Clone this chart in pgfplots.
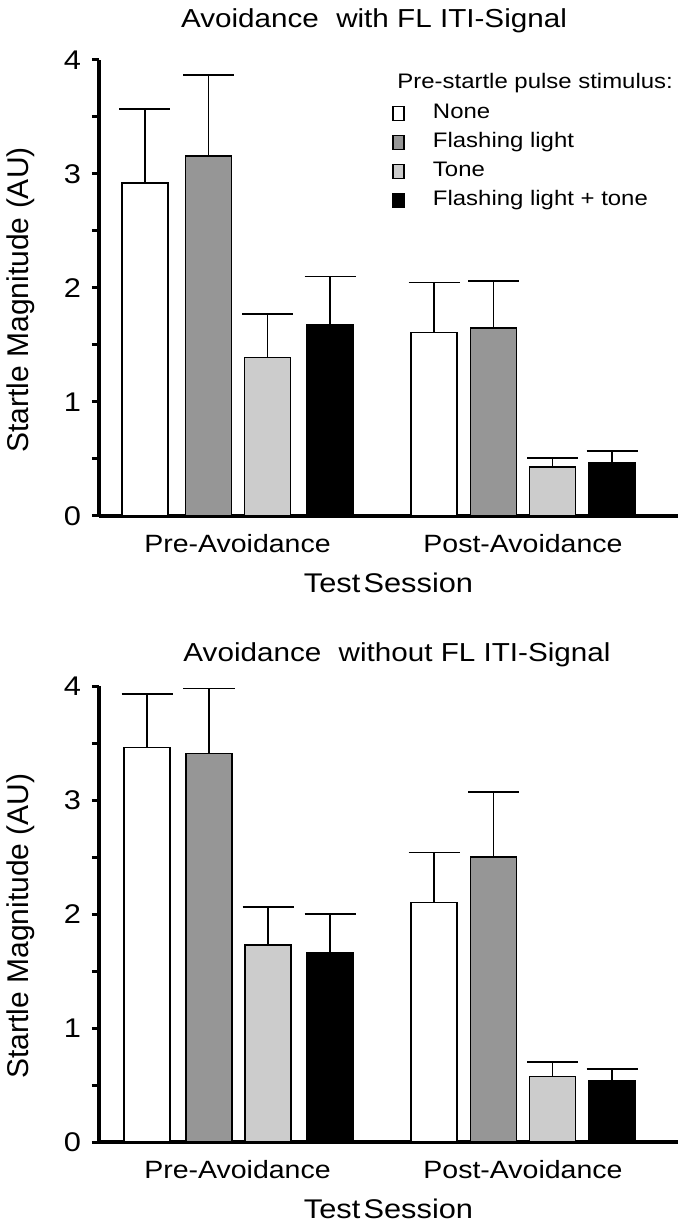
\documentclass[border=0pt]{standalone}
\usepackage{fontspec}
\setmainfont{Liberation Sans}[FakeStretch=1.14]
\newfontfamily\ylabfont{Liberation Sans}
\usepackage{pgfplots}
\pgfplotsset{compat=1.18}
\definecolor{flgray}{RGB}{150,150,150}
\definecolor{tonegray}{RGB}{204,204,204}
\pgfplotsset{
  mybar/.style={ybar, bar width=23pt, bar shift=0pt, draw=black, line width=0.75pt,
    /pgfplots/error bars/y dir=plus, /pgfplots/error bars/y explicit,
    /pgfplots/error bars/error bar style={line width=0.75pt, black},
    /pgfplots/error bars/error mark options={rotate=90, line width=0.75pt, mark size=12.75pt, black}},
  panel/.style={
    scale only axis, width=289.5pt, height=228pt,
    xmin=99, xmax=678, ymin=0, ymax=4,
    axis x line*=bottom, axis y line*=left,
    axis line style={line width=2pt, -},
    ytick={0,1,2,3,4}, minor ytick={0.5,1.5,2.5,3.5},
    tick align=outside, major tick length=3.5pt, minor tick length=3.5pt,
    tick style={line width=1.5pt, black},
    xtick={237.5,523}, xticklabels={Pre-Avoidance,Post-Avoidance},
    xtick style={draw=none},
    /pgf/number format/assume math mode=true,
    font=\fontsize{12.5}{15}\selectfont,
    yticklabel style={xshift=-2pt, font=\fontsize{13.5}{16}\selectfont},
    xticklabel style={yshift=-2pt},
    xlabel={Test\kern0.12em Session},
    xlabel style={at={(axis description cs:0.5,0)}, anchor=center, yshift=-33.5pt, font=\fontsize{13.5}{16}\selectfont},
    ylabel={Startle Magnitude (AU)},
    ylabel style={at={(axis description cs:-0.1347,0.474)}, anchor=center, font=\ylabfont\fontsize{15}{18}\selectfont},
    clip=false,
  }
}
\begin{document}
\begin{tikzpicture}
\path[use as bounding box] (0,0) rectangle (343pt,613.5pt);
% ---------- top panel ----------
\begin{axis}[panel, at={(49.5pt,355.5pt)}, anchor=south west,
  legend style={at={(axis description cs:0.506,0.911)}, anchor=north west, draw=none, fill=none,
    inner sep=0pt, row sep=2pt, font=\fontsize{10.5}{12}\selectfont,
    nodes={inner sep=1pt, text height=8pt, text depth=2.5pt, anchor=west}},
  legend cell align=left,
  legend image code/.code={\draw[#1, line width=0.6pt, draw=black] (0pt,-3.5pt) rectangle (5.5pt,3.5pt); \path[draw=none, fill=none] (0pt,-0.1pt) rectangle (19pt,0.1pt);}]
\addplot[mybar, fill=white] coordinates {(145,2.92) +- (0,0.65) (434,1.61) +- (0,0.44)};
\addplot[mybar, fill=flgray] coordinates {(208.5,3.16) +- (0,0.71) (493.5,1.65) +- (0,0.41)};
\addplot[mybar, fill=tonegray] coordinates {(267.5,1.39) +- (0,0.38) (552.5,0.43) +- (0,0.08)};
\addplot[mybar, fill=black] coordinates {(330,1.68) +- (0,0.42) (612,0.47) +- (0,0.10)};
\legend{None, Flashing light, Tone, Flashing light + tone}
\end{axis}
\node[anchor=west, font=\fontsize{10.5}{12}\selectfont, inner sep=0pt] at (198.5pt,572pt) {Pre-startle pulse stimulus:};
\node[anchor=base, font=\fontsize{13}{15}\selectfont, inner sep=0pt] at (187pt,599.5pt) {Avoidance\hspace{0.35em} with FL ITI-Signal};
% ---------- bottom panel ----------
\begin{axis}[panel, at={(49.5pt,42.5pt)}, anchor=south west]
\addplot[mybar, fill=white] coordinates {(147,3.46) +- (0,0.47) (434,2.10) +- (0,0.44)};
\addplot[mybar, fill=flgray] coordinates {(209,3.41) +- (0,0.57) (493.5,2.50) +- (0,0.57)};
\addplot[mybar, fill=tonegray] coordinates {(268,1.73) +- (0,0.33) (552.5,0.575) +- (0,0.125)};
\addplot[mybar, fill=black] coordinates {(330,1.66) +- (0,0.34) (612,0.54) +- (0,0.10)};
\end{axis}
\node[anchor=base, font=\fontsize{13}{15}\selectfont, inner sep=0pt] at (198.5pt,282.5pt) {Avoidance\hspace{0.35em} without FL ITI-Signal};
\end{tikzpicture}
\end{document}
